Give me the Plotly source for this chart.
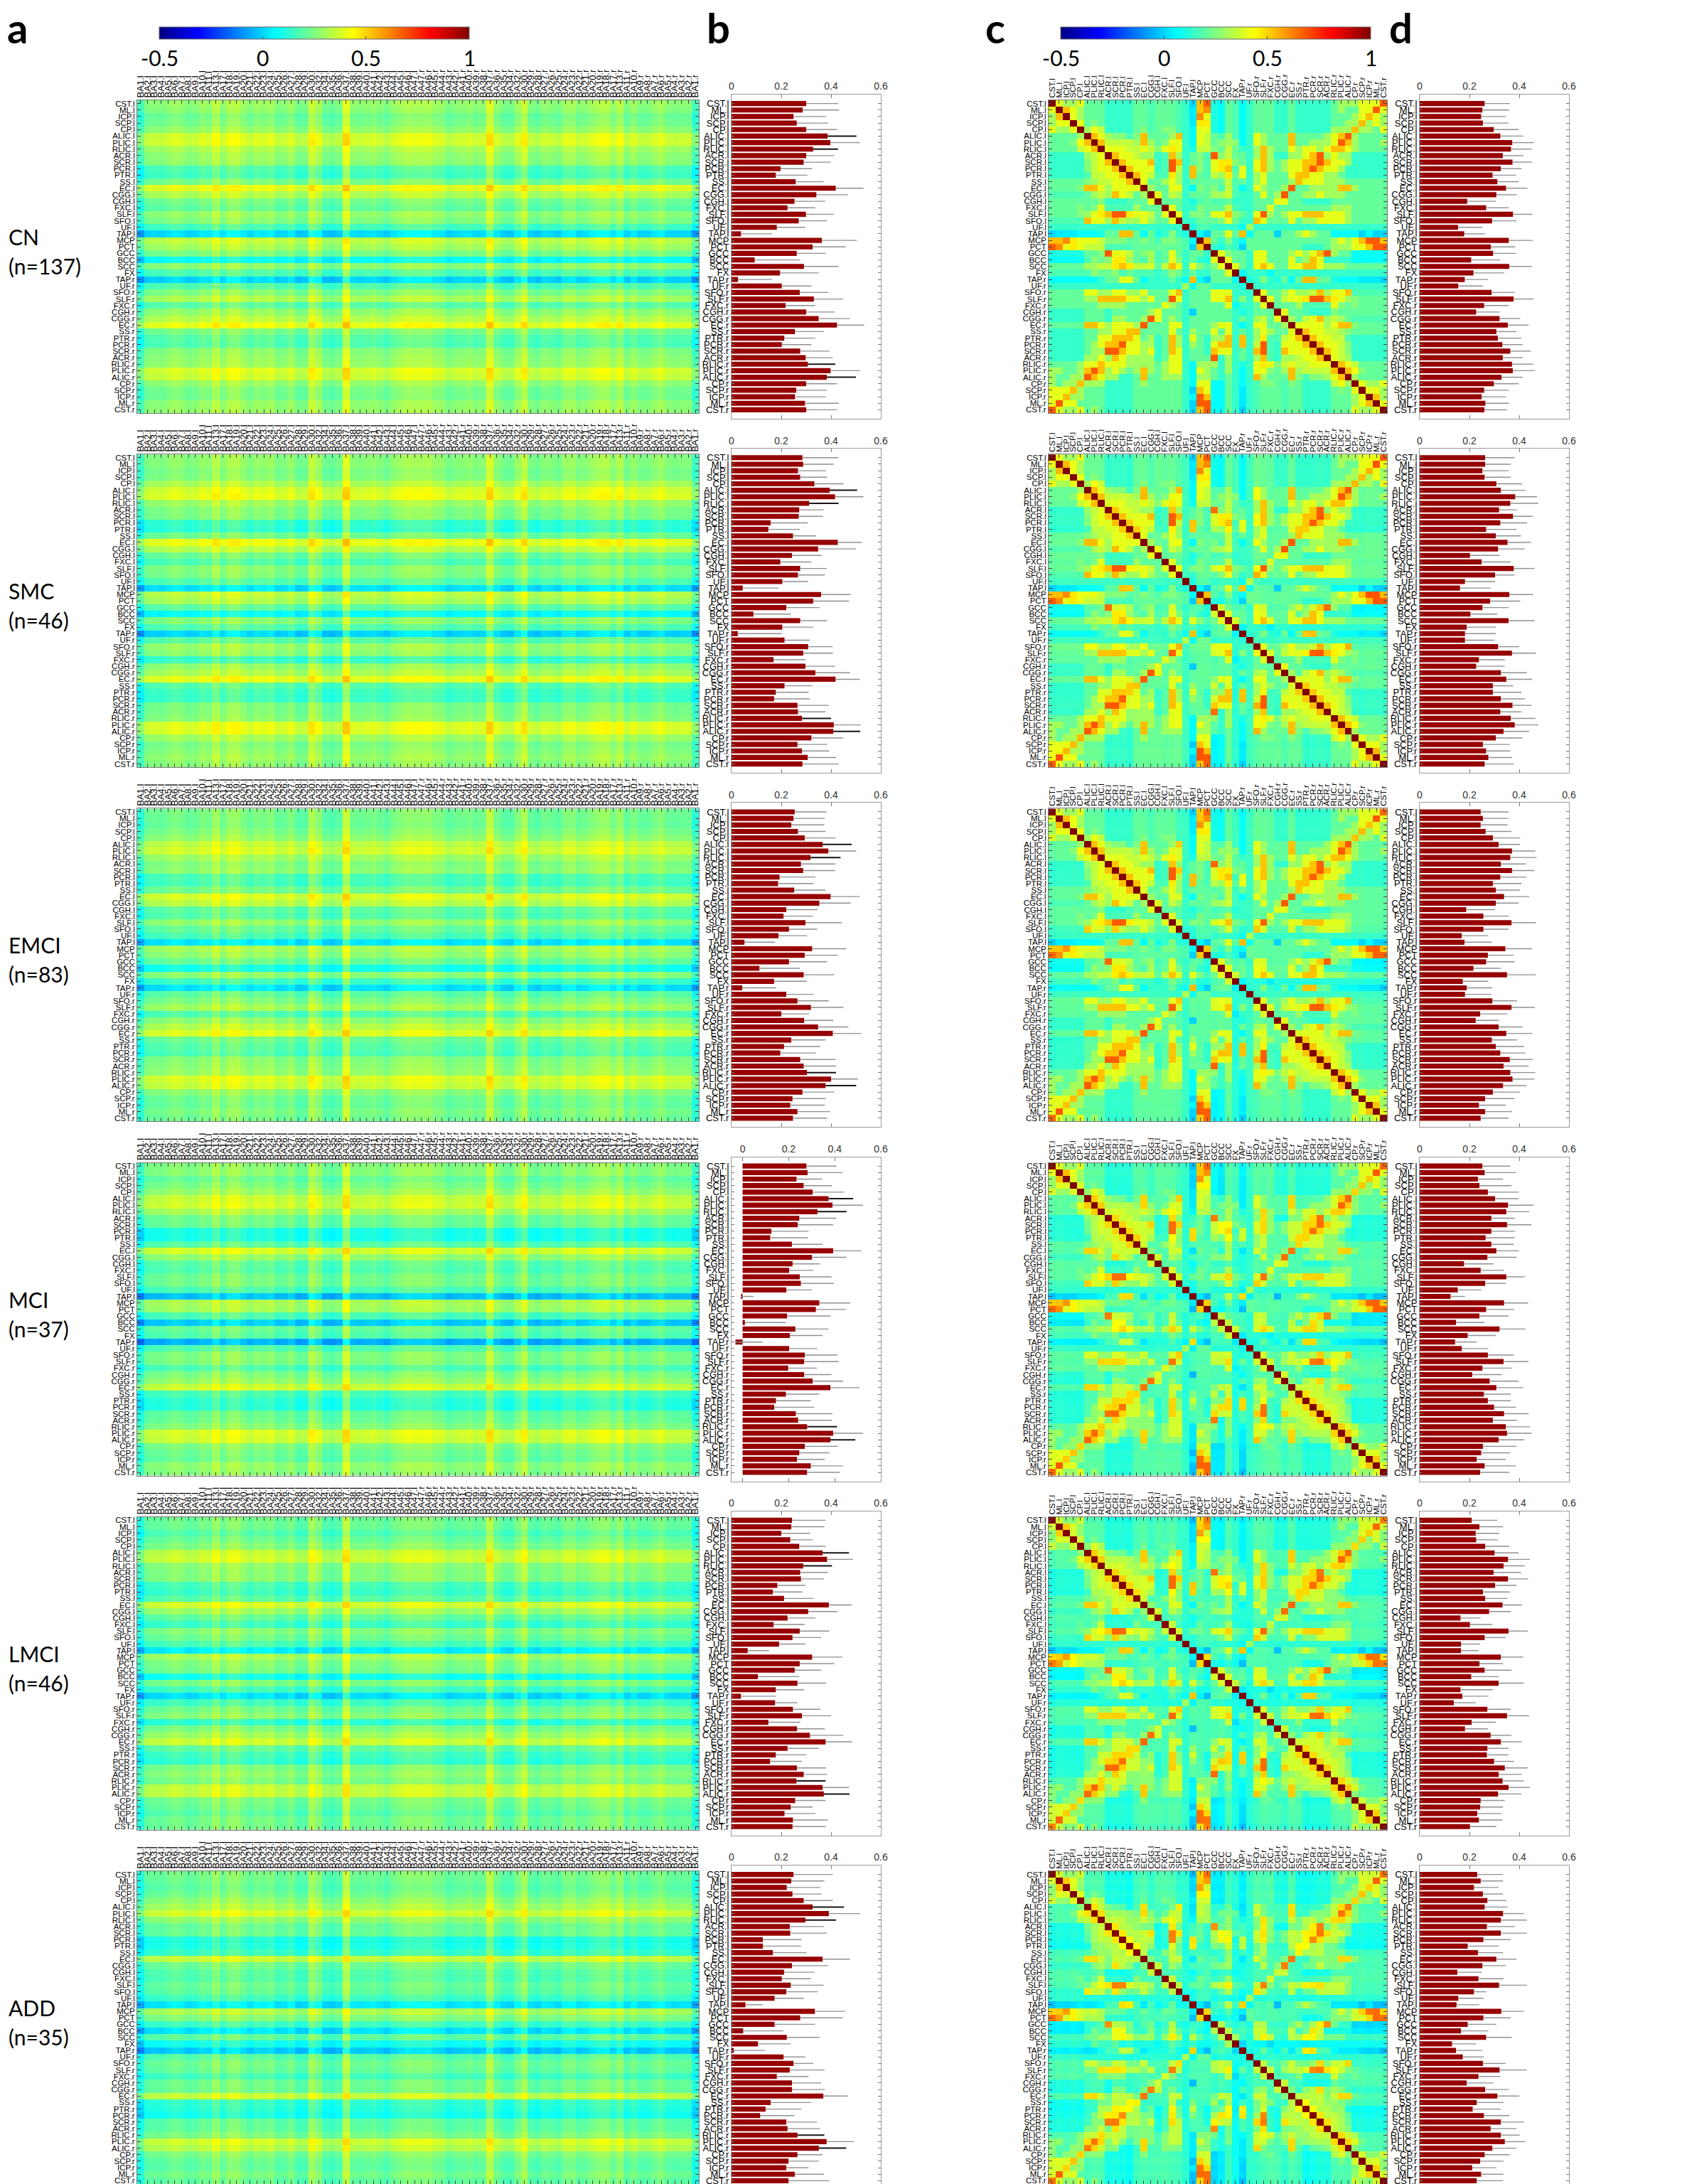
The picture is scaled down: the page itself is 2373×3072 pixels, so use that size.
import numpy as np
import plotly.graph_objects as go

# ---- labels -------------------------------------------------------------
tracts_left = ["CST", "ML", "ICP", "SCP", "CP", "ALIC", "PLIC", "RLIC", "ACR", "SCR",
               "PCR", "PTR", "SS", "EC", "CGG", "CGH", "FXC", "SLF", "SFO", "UF", "TAP"]
midline = ["MCP", "PCT", "GCC", "BCC", "SCC", "FX"]
tract_labels = ([t + ".l" for t in tracts_left] + midline
                + [t + ".r" for t in reversed(tracts_left)])

ba_areas = [1, 2, 3, 4, 5, 6, 7, 8, 9, 10, 11, 13, 17, 18, 19, 20, 21, 22, 23, 24, 25,
            26, 27, 28, 29, 30, 32, 34, 35, 36, 37, 38, 39, 40, 41, 42, 43, 44, 45, 46, 47]
ba_labels = [f"BA{n}.l" for n in ba_areas] + [f"BA{n}.r" for n in reversed(ba_areas)]

groups = ["CN", "SMC", "EMCI", "MCI", "LMCI", "ADD"]
group_n = [137, 46, 83, 37, 46, 35]

cbar_ticks = [-0.5, 0, 0.5, 1]
cbar_ticktext = ["-0.5", "0", "0.5", "1"]

# ---- panel b: mean tract-BA connectivity (bar end, error end) --------------
b_mean = {
    "CN": [.300, .286, .249, .262, .300, .386, .397, .328, .300, .290, .197, .178, .258, .419, .341, .253,
           .225, .299, .270, .182, .038, .363, .326, .262, .093, .291, .195, .026, .202, .274, .331, .217,
           .300, .350, .424, .255, .212, .202, .276, .298, .307, .398, .383, .300, .260, .255, .295, .300],
    "SMC": [.285, .288, .267, .276, .333, .395, .416, .312, .272, .270, .157, .148, .247, .427, .348, .243,
            .196, .276, .267, .204, .045, .360, .328, .220, .088, .276, .204, .025, .213, .308, .288, .169,
            .297, .337, .418, .213, .178, .171, .265, .267, .283, .411, .409, .321, .265, .283, .306, .285],
    "EMCI": [.254, .249, .240, .267, .294, .366, .389, .317, .279, .288, .193, .187, .252, .398, .353, .220,
             .209, .297, .231, .189, .052, .324, .294, .231, .112, .290, .171, .043, .220, .265, .319, .200,
             .292, .348, .407, .240, .211, .196, .276, .290, .303, .400, .378, .285, .245, .236, .265, .247],
    "MCI": [.277, .282, .234, .265, .304, .373, .390, .325, .246, .239, .125, .120, .214, .393, .301, .217,
            .202, .248, .253, .190, -.007, .333, .318, .193, .010, .229, .205, -.031, .202, .270, .267, .198,
            .267, .304, .381, .188, .145, .137, .231, .241, .280, .393, .381, .270, .246, .236, .296, .280],
    "LMCI": [.243, .240, .200, .236, .272, .366, .384, .288, .276, .279, .184, .166, .211, .391, .308, .225,
             .169, .274, .245, .191, .065, .324, .274, .254, .106, .265, .178, .038, .175, .247, .283, .148,
             .263, .315, .378, .225, .178, .155, .263, .290, .261, .366, .371, .256, .238, .213, .247, .245],
    "ADD": [.249, .240, .222, .245, .290, .326, .391, .297, .234, .236, .126, .126, .166, .366, .243, .211,
            .202, .238, .220, .173, .056, .335, .276, .173, .047, .222, .106, .009, .209, .249, .234, .182,
            .243, .243, .369, .157, .137, .115, .220, .225, .265, .382, .351, .265, .229, .220, .254, .229],
}
b_upper = {
    "CN": [.429, .432, .379, .388, .424, .502, .516, .428, .412, .399, .324, .305, .370, .530, .468, .376,
           .336, .412, .384, .296, .162, .504, .459, .378, .274, .430, .351, .163, .321, .388, .448, .336,
           .414, .476, .533, .371, .336, .321, .393, .407, .417, .517, .500, .424, .383, .379, .431, .424],
    "SMC": [.430, .410, .380, .384, .450, .505, .530, .430, .370, .368, .306, .276, .340, .524, .500, .362,
            .321, .382, .375, .308, .189, .479, .472, .355, .238, .384, .328, .202, .315, .407, .407, .297,
            .416, .476, .515, .326, .310, .315, .391, .378, .400, .519, .517, .449, .384, .393, .420, .431],
    "EMCI": [.382, .375, .373, .378, .418, .483, .501, .438, .418, .416, .337, .330, .378, .515, .479, .346,
             .326, .443, .344, .303, .175, .461, .427, .384, .274, .413, .303, .180, .330, .391, .449, .312,
             .409, .470, .521, .378, .357, .339, .418, .420, .420, .508, .501, .413, .378, .375, .396, .384],
    "MCI": [.407, .434, .345, .388, .441, .480, .523, .451, .407, .393, .287, .284, .347, .516, .451, .335,
            .308, .386, .395, .301, .048, .467, .448, .381, .188, .373, .347, .087, .325, .412, .417, .323,
            .386, .436, .508, .333, .296, .311, .390, .388, .410, .523, .489, .414, .376, .357, .436, .422],
    "LMCI": [.378, .373, .315, .326, .378, .472, .488, .404, .387, .371, .297, .285, .330, .483, .427, .337,
             .294, .393, .360, .297, .151, .445, .413, .360, .272, .380, .292, .178, .265, .357, .400, .276,
             .375, .449, .485, .351, .301, .283, .380, .384, .378, .472, .474, .378, .326, .337, .387, .378],
    "ADD": [.407, .373, .357, .362, .407, .452, .517, .420, .371, .384, .281, .279, .301, .476, .389, .333,
            .319, .371, .346, .290, .126, .456, .447, .335, .209, .353, .238, .135, .297, .328, .375, .310,
            .360, .375, .467, .321, .281, .252, .344, .355, .373, .492, .461, .366, .351, .310, .371, .393],
}
dark_err_tracts = ["ALIC.l", "RLIC.l", "RLIC.r", "ALIC.r"]

# ---- panel d: mean tract-tract connectivity -------------------------------
d_mean = {
    "CN": [.261, .252, .247, .254, .298, .324, .372, .367, .334, .373, .326, .293, .312, .347, .308, .191,
           .267, .375, .291, .154, .179, .358, .286, .295, .207, .360, .216, .181, .155, .289, .377, .259,
           .227, .321, .354, .308, .314, .332, .364, .334, .371, .374, .329, .298, .259, .249, .264, .260],
    "SMC": [.263, .263, .252, .261, .308, .326, .384, .364, .319, .375, .324, .267, .306, .353, .315, .202,
            .249, .378, .303, .182, .162, .360, .283, .252, .204, .357, .189, .182, .182, .315, .371, .238,
            .227, .326, .348, .294, .294, .326, .373, .324, .366, .382, .337, .306, .254, .267, .276, .261],
    "EMCI": [.245, .254, .245, .265, .294, .317, .371, .364, .326, .371, .324, .294, .306, .339, .306, .187,
             .256, .369, .256, .169, .180, .344, .274, .267, .216, .351, .173, .189, .182, .292, .369, .243,
             .225, .317, .348, .290, .306, .324, .362, .337, .364, .373, .335, .294, .263, .238, .263, .245],
    "MCI": [.252, .261, .234, .240, .274, .303, .355, .348, .288, .351, .288, .265, .288, .308, .272, .178,
            .245, .348, .263, .153, .124, .339, .267, .240, .146, .321, .193, .142, .169, .274, .337, .252,
            .211, .281, .308, .258, .274, .299, .339, .294, .346, .351, .317, .254, .247, .229, .261, .243],
    "LMCI": [.209, .240, .225, .227, .263, .301, .355, .337, .297, .355, .303, .254, .263, .333, .279, .164,
             .202, .357, .261, .166, .166, .326, .240, .261, .207, .317, .164, .171, .137, .272, .351, .209,
             .182, .285, .326, .272, .270, .299, .342, .317, .333, .357, .315, .245, .243, .231, .238, .202],
    "ADD": [.231, .245, .218, .254, .272, .261, .335, .326, .270, .326, .256, .193, .234, .308, .252, .151,
            .236, .319, .218, .155, .148, .328, .256, .193, .166, .267, .130, .146, .173, .254, .321, .236,
            .189, .263, .312, .229, .213, .258, .326, .285, .326, .342, .292, .261, .243, .211, .247, .229],
}
d_upper = {
    "CN": [.362, .359, .346, .357, .398, .416, .459, .451, .417, .451, .410, .387, .397, .433, .390, .306,
           .357, .453, .389, .251, .262, .454, .384, .388, .324, .451, .340, .275, .254, .382, .458, .358,
           .321, .404, .438, .389, .409, .414, .446, .415, .456, .464, .414, .397, .358, .347, .358, .351],
    "SMC": [.382, .366, .357, .366, .411, .425, .472, .476, .391, .454, .431, .389, .407, .447, .422, .321,
            .366, .461, .382, .303, .285, .456, .404, .357, .312, .461, .306, .306, .299, .400, .467, .342,
            .342, .431, .452, .375, .409, .422, .449, .409, .465, .476, .440, .413, .362, .364, .371, .378],
    "EMCI": [.357, .357, .353, .369, .404, .402, .465, .470, .427, .461, .429, .409, .404, .440, .398, .303,
             .357, .467, .357, .274, .290, .452, .378, .382, .326, .467, .276, .292, .288, .391, .463, .353,
             .319, .413, .452, .391, .420, .425, .454, .438, .465, .461, .429, .402, .380, .346, .371, .357],
    "MCI": [.364, .387, .335, .369, .398, .398, .458, .440, .382, .449, .384, .380, .378, .398, .389, .297,
            .339, .422, .346, .247, .182, .436, .380, .357, .261, .425, .306, .229, .276, .378, .438, .369,
            .330, .398, .416, .366, .366, .387, .438, .391, .443, .449, .420, .389, .364, .346, .387, .360],
    "LMCI": [.312, .335, .319, .315, .360, .398, .443, .422, .407, .436, .389, .362, .353, .411, .366, .245,
             .292, .434, .344, .243, .236, .416, .335, .369, .319, .418, .294, .276, .225, .366, .440, .306,
             .274, .369, .411, .357, .357, .380, .434, .409, .418, .443, .409, .342, .335, .328, .333, .308],
    "ADD": [.335, .335, .317, .335, .348, .353, .418, .431, .382, .431, .366, .317, .335, .389, .346, .249,
            .337, .431, .267, .256, .240, .418, .366, .308, .276, .369, .227, .252, .258, .346, .431, .324,
            .297, .357, .400, .337, .326, .360, .420, .389, .402, .425, .389, .362, .337, .308, .337, .335],
}

# ---- panel a: column (Brodmann area) shifts ----
ba_shift_left = [-.10, -.01, .00, -.01, .01, .03, .02, -.01, .00, .03, .02, .08, .01, .06, .07, .03,
                 .00, .03, .02, .04, -.01, .00, .03, -.03, -.02, .10, .05, -.03, -.04, -.02, .14, .01,
                 .00, .01, .02, .00, -.02, .02, .04, .06, .05]
ba_shift_right = [.05, .06, .03, .02, -.02, .00, .01, .02, .00, .01, .13, .02, -.02, -.03, .03, .10,
                  -.01, -.03, .01, .00, -.02, .03, .04, .00, .01, .04, .06, .07, .02, .07, -.01, .03,
                  -.01, -.01, .02, .04, .00, -.01, .00, .00, -.10]
a_row_offset = -0.03

# ---- panel c: CN tract-tract matrix, rows CST.l .. FX (colour level codes) --
c_levels = {"b": 0.0, "c": 0.07, "g": 0.14, "G": 0.21, "y": 0.30,
            "Y": 0.40, "o": 0.53, "r": 0.68, "D": 1.0}
c_rows = [
    "DYyyY GGG gggg GGgGGGgg bor gcGGc gGGGggGggggg GyyyYYYr",
    "YDoYy GGG gggg GGgGGGgg coo gcGGc gGGGggGggggg GyGGYYrY",
    "yoDYy GGG gggg GGgGGGgg boY gcGGc gGGGggGggggg GGGyYoYy",
    "yYYDY GGG gggg GGgGGGgg cYY gcGGc gGGGggGggggg GGyyoyYy",
    "YyyYD yyy gggg GGgGGGgg cYY gcGGc gGGGggGggggg yyyoyyGY",
    "GGGGy DoY yGGg GoGGGyog cYy GGyGc gYyGGGoGGGGy YoryGGGG",
    "GGGyo oDo YyYY yoyGGYYg cYY GYyYc gYyGGGoGGyyy YroyGGGy",
    "GGGGY YoD YYYY yYyGYoYg gyy GyYyg gyoyGGYyYYyY ooYyGGGG",
    "ggggg yyY DoYY yyyggoyg GyG rYYyG gyoyggyyYory Yyyggggg",
    "ggggg yYY oDoY YYoggrog GyG YoYYG gYoyGyYYooro YYyggggg",
    "ggggg yyY YoDo YYYggrYg oyG YYoGY gYoyGyYYoroY Yygggggg",
    "ggggg Gyy YYoD oYyGgoyg oGG YyoyY gyYGGGYooYYy yGgggggg",
    "GGGGG yyY YYYo DYGGYYyg GGG GGyGG gyYGGGyoYYYy yyGGGGGG",
    "GGGGy ooY yYYY YDyGGYYg cyG GGYGc gYyGGyrGGyyy yooyGGGG",
    "GGGGG GyY yoYY GyDYGYyg GGG GYoGg gGYGyrGGyyYy yyGGGGGG",
    "GGGGG GGy gggg GGYDGGGg ggG ggGGg gGGGYYGGgggg GGGGGGGG",
    "GGGGy GyY GGGG GGGGDYGg GyG GGyGg gGGYGGGGGGGG yyyGGGGG",
    "GGGGy yYY orrY YYyGYDYg yyG YYoYG gYryGyYYoooY YYyGGGGG",
    "GGGGG oYY yoyy yYyGGYDg GGG GyYyg goYGGGYGyyYY YYyGGGGG",
    "ggggg ggg gggg gggggggD cgg ggggc yggggggggggg gggggggg",
    "bbcbc ccc GGoo GcGccGcg Dcb GGYGo cGGGbGGyYyGG ccccbcbb",
    "ooroY YYY GGGG GGGGGGGG cDo GGGGc GGGGGGGGGGGG yYyYorro",
    "rrYoY YyY gggg GGGGGGGG boD gcGGb GGGGGGGGgggG yyyYYorr",
    "ccccc GGy rYYy GyYGGYGg GGg DYyGG gYYGGGyYyYor yGGccccc",
    "ccccc ggg gYoy GgGGGYGg Gcg YDYGG gYYGGGYGyoYg gggccccc",
    "GGGGG yyy yooY YyGGYoYg Yyg GYDYG gYoYGGYYooYy yyGGGGGG",
    "ggggg ggg gggg gggcgggg Gcc GGYDc gggcgggggggg gggggggg",
]

# ---- build matrices ---------------------------------------------------------
n_t = len(tract_labels)
ba_shift = np.array(ba_shift_left + ba_shift_right)

base_c = np.zeros((n_t, n_t))
n_top = len(c_rows)
for i, row in enumerate(c_rows):
    codes = row.replace(" ", "")
    if len(codes) != n_t:
        raise ValueError(f"row {i} has {len(codes)} cells")
    base_c[i] = [c_levels[ch] for ch in codes]
blk = base_c[:n_top, :n_top]
base_c[:n_top, :n_top] = (blk + blk.T) / 2
for i in range(n_top, n_t):
    for j in range(n_t):
        base_c[i, j] = base_c[j, i] if j < n_top else base_c[n_t - 1 - i, n_t - 1 - j]

d_ref = np.array(d_mean["CN"])


def matrix_a(g):
    return np.array(b_mean[g])[:, None] + a_row_offset + ba_shift[None, :]


def matrix_c(g):
    delta = np.array(d_mean[g]) - d_ref
    m = base_c + 0.5 * (delta[:, None] + delta[None, :])
    np.fill_diagonal(m, 1.0)
    return m


# ---- layout geometry (pixels) -----------------------------------------------
W, H = 2373, 3072
col_a = (185, 975)
col_b = (1021, 1231)
col_c = (1467, 1943)
col_d = (1989, 2199)
row_top0, row_pitch, map_h, bar_pad = 133, 498.2, 440, 8
cbar_a = (216, 652)
cbar_c = (1484, 1920)

jet = [[0.0, "rgb(0,0,131)"], [0.125, "rgb(0,0,255)"], [0.375, "rgb(0,255,255)"],
       [0.625, "rgb(255,255,0)"], [0.875, "rgb(255,0,0)"], [1.0, "rgb(128,0,0)"]]

label_font = "Liberation Sans Narrow, Liberation Sans, Arial"
text_font = "Lato, Open Sans, sans-serif"
bar_red = "#960000"


def xd(px):
    return [px[0] / W, px[1] / W]


def yd(top, bottom):
    return [1 - bottom / H, 1 - top / H]


fig = go.Figure()
layout = {}
row_idx = list(range(n_t))
dark_idx = [tract_labels.index(t) for t in dark_err_tracts]

for k, g in enumerate(groups):
    top = row_top0 + k * row_pitch
    n0 = 4 * k
    ids = [n0 + 1, n0 + 2, n0 + 3, n0 + 4]
    ref = [("" if n == 1 else str(n)) for n in ids]

    # a: tract x Brodmann area
    fig.add_trace(go.Heatmap(z=matrix_a(g), x=list(range(len(ba_labels))), y=row_idx,
                             coloraxis="coloraxis", xaxis="x" + ref[0], yaxis="y" + ref[0]))
    # c: tract x tract
    fig.add_trace(go.Heatmap(z=matrix_c(g), x=row_idx, y=row_idx,
                             coloraxis="coloraxis2", xaxis="x" + ref[2], yaxis="y" + ref[2]))

    # b and d: bars with one-sided error lines
    for pos, means, uppers, dark in ((1, b_mean[g], b_upper[g], dark_idx),
                                     (3, d_mean[g], d_upper[g], [])):
        fig.add_trace(go.Bar(x=means, y=row_idx, orientation="h", width=0.78,
                             marker=dict(color=bar_red, line=dict(width=0)),
                             xaxis="x" + ref[pos], yaxis="y" + ref[pos]))
        for sel, colr, lw in (([i for i in row_idx if i not in dark], "#8f8f8f", 1.4),
                              (dark, "#151515", 2.0)):
            if not sel:
                continue
            xs, ys = [], []
            for i in sel:
                xs += [means[i], uppers[i], None]
                ys += [i, i, None]
            fig.add_trace(go.Scatter(x=xs, y=ys, mode="lines", line=dict(color=colr, width=lw),
                                     hoverinfo="skip", xaxis="x" + ref[pos], yaxis="y" + ref[pos]))

    map_y = yd(top, top + map_h)
    bar_y = yd(top - bar_pad, top + map_h + bar_pad)
    pad_rows = bar_pad / (map_h / n_t)
    common = dict(showgrid=False, zeroline=False, ticks="inside", mirror="ticks",
                  showline=True, fixedrange=True, automargin=False)

    for pos, cols, xt, xl, fs in ((0, col_a, ba_labels, 13, 11.5), (2, col_c, tract_labels, 11.5, 11.5)):
        layout["xaxis" + ref[pos]] = dict(
            common, domain=xd(cols), anchor="y" + ref[pos], side="top",
            range=[-0.5, len(xt) - 0.5], tickmode="array", tickvals=list(range(len(xt))),
            ticktext=xt, tickangle=-90, ticklen=5, tickcolor="#444", linecolor="#777",
            tickfont=dict(family=label_font, size=xl, color="black"))
        layout["yaxis" + ref[pos]] = dict(
            common, domain=map_y, anchor="x" + ref[pos], range=[n_t - 0.5, -0.5],
            tickmode="array", tickvals=row_idx, ticktext=tract_labels, ticklen=5,
            tickcolor="#444", linecolor="#777",
            tickfont=dict(family=label_font, size=fs, color="black"))

    for pos, cols in ((1, col_b), (3, col_d)):
        lo = -0.048 if (pos == 1 and min(b_mean[g]) < 0) else 0.0
        layout["xaxis" + ref[pos]] = dict(
            common, domain=xd(cols), anchor="y" + ref[pos], side="top", range=[lo, 0.6],
            tickmode="array", tickvals=[0, 0.2, 0.4, 0.6], ticktext=["0", "0.2", "0.4", "0.6"],
            ticklen=5, tickcolor="#777", linecolor="#9a9a9a",
            tickfont=dict(family="Liberation Sans, Arial", size=14, color="#333"))
        layout["yaxis" + ref[pos]] = dict(
            common, domain=bar_y, anchor="x" + ref[pos],
            range=[n_t - 0.5 + pad_rows, -0.5 - pad_rows],
            tickmode="array", tickvals=row_idx, ticktext=tract_labels, ticklen=4,
            tickcolor="#777", linecolor="#9a9a9a",
            tickfont=dict(family=label_font, size=13, color="black"))

annotations = []
for k, g in enumerate(groups):
    top = row_top0 + k * row_pitch
    annotations.append(dict(x=2 / W, y=1 - (top + 192) / H, xref="paper", yref="paper",
                            xanchor="left", yanchor="middle", showarrow=False, text=g,
                            font=dict(family=text_font, size=30, color="black")))
    annotations.append(dict(x=2 / W, y=1 - (top + 233) / H, xref="paper", yref="paper",
                            xanchor="left", yanchor="middle", showarrow=False,
                            text=f"(n={group_n[k]})",
                            font=dict(family=text_font, size=30, color="black")))
for letter, px in (("a", 0), ("b", 984), ("c", 1376), ("d", 1944)):
    annotations.append(dict(x=px / W, y=1 - 30 / H, xref="paper", yref="paper",
                            xanchor="left", yanchor="middle", showarrow=False,
                            text=f"<b>{letter}</b>",
                            font=dict(family=text_font, size=58, color="black")))
# colour-bar tick labels, centred under each tick position
for lo, hi in (cbar_a, cbar_c):
    for v, t in zip(cbar_ticks, cbar_ticktext):
        px = lo + (v - cbar_ticks[0]) / (cbar_ticks[-1] - cbar_ticks[0]) * (hi - lo)
        annotations.append(dict(x=px / W, y=1 - 73 / H, xref="paper", yref="paper",
                                xanchor="center", yanchor="middle", showarrow=False, text=t,
                                font=dict(family=text_font, size=30, color="black")))


def cbar(span):
    return dict(orientation="h", x=(span[0] + span[1]) / 2 / W, xanchor="center",
                y=1 - 30 / H, yanchor="top", len=(span[1] - span[0]) / W, lenmode="fraction",
                thickness=17, xpad=0, ypad=0, outlinewidth=1, outlinecolor="#666",
                tickmode="array", tickvals=[0, 0.5], showticklabels=False,
                ticks="inside", ticklen=4, tickcolor="#333")


fig.update_layout(
    width=W, height=H, margin=dict(l=0, r=0, t=0, b=0, pad=0, autoexpand=False),
    paper_bgcolor="white", plot_bgcolor="white", showlegend=False,
    coloraxis=dict(colorscale=jet, cmin=-0.5, cmax=1, colorbar=cbar(cbar_a)),
    coloraxis2=dict(colorscale=jet, cmin=-0.5, cmax=1, colorbar=cbar(cbar_c)),
    annotations=annotations, bargap=0.2,
    **layout,
)

fig.write_html("out.html")
